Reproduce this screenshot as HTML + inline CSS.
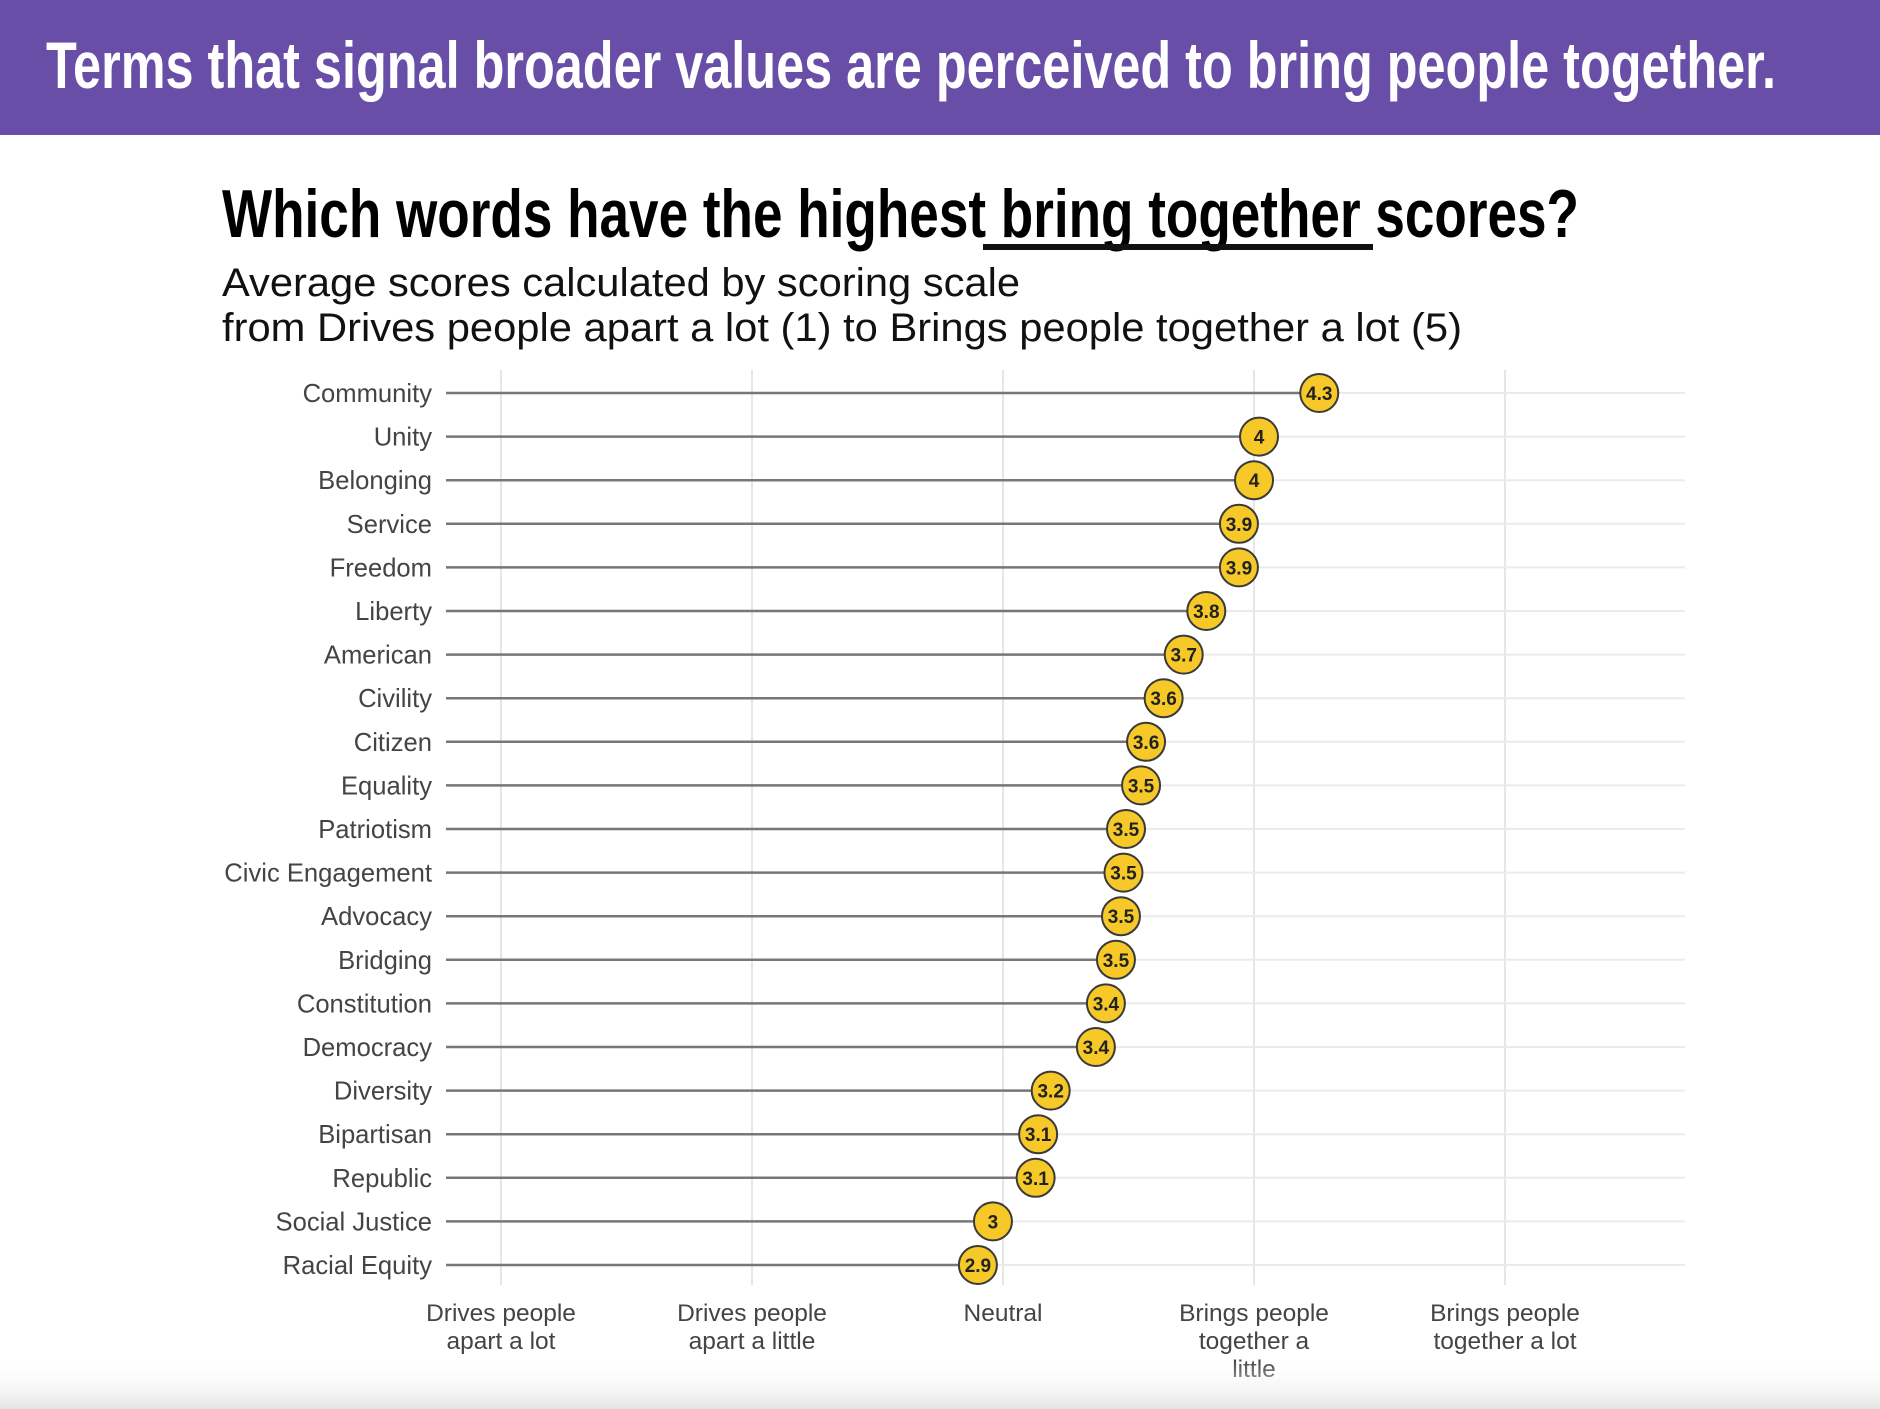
<!DOCTYPE html>
<html><head><meta charset="utf-8"><style>
html,body{margin:0;padding:0;background:#fff;}
svg{display:block;}
text{font-family:"Liberation Sans",sans-serif;}
</style></head><body>
<svg id="chart" width="1880" height="1409" viewBox="0 0 1880 1409">
<defs><linearGradient id="bot" x1="0" y1="0" x2="0" y2="1"><stop offset="0" stop-color="#fff" stop-opacity="0"/><stop offset="1" stop-color="#e4e4e4"/></linearGradient></defs>
<rect x="0" y="0" width="1880" height="135" fill="#684ea7"/>
<text x="46" y="88" font-size="66" font-weight="bold" fill="#fff" textLength="1730" lengthAdjust="spacingAndGlyphs">Terms that signal broader values are perceived to bring people together.</text>
<text x="222" y="237" font-size="68" font-weight="bold" fill="#000" textLength="1357" lengthAdjust="spacingAndGlyphs">Which words have the highest bring together scores?</text>
<rect x="983" y="244" width="390" height="6" fill="#111"/>
<text x="222" y="296" font-size="40" fill="#111" textLength="798" lengthAdjust="spacingAndGlyphs">Average scores calculated by scoring scale</text>
<text x="222" y="341" font-size="40" fill="#111" textLength="1240" lengthAdjust="spacingAndGlyphs">from Drives people apart a lot (1) to Brings people together a lot (5)</text>
<g id="plot"></g>
<rect x="0" y="1360" width="1880" height="49" fill="url(#bot)"/>
</svg>
<script>
const words = ["Community","Unity","Belonging","Service","Freedom","Liberty","American","Civility","Citizen","Equality","Patriotism","Civic Engagement","Advocacy","Bridging","Constitution","Democracy","Diversity","Bipartisan","Republic","Social Justice","Racial Equity"];
const scores = [4.26,4.02,4.0,3.94,3.94,3.81,3.72,3.64,3.57,3.55,3.49,3.48,3.47,3.45,3.41,3.37,3.19,3.14,3.13,2.96,2.90];
const valueLabels = ["4.3","4","4","3.9","3.9","3.8","3.7","3.6","3.6","3.5","3.5","3.5","3.5","3.5","3.4","3.4","3.2","3.1","3.1","3","2.9"];
const tickValues = [1,2,3,4,5];
const tickLabels = [["Drives people","apart a lot"],["Drives people","apart a little"],["Neutral"],["Brings people","together a","little"],["Brings people","together a lot"]];

const NS="http://www.w3.org/2000/svg";
const g=document.getElementById('plot');
const x=v=>501+(v-1)*251;
const y=i=>393+i*43.6;
function mk(tag,attrs){const e=document.createElementNS(NS,tag);for(const k in attrs)e.setAttribute(k,attrs[k]);g.appendChild(e);return e;}
tickValues.forEach((t,j)=>{
  const l=mk('line',{x1:x(t),x2:x(t),y1:370,y2:1285,stroke:'#e6e6e6','stroke-width':2});
  
  
  tickLabels[j].forEach((s,k)=>{
    const tx=mk('text',{x:x(t),y:1321+k*28,'font-size':24.5,fill:'#444','text-anchor':'middle'});
    tx.textContent=s;
    
    
  });
});
words.forEach((w,i)=>{
  const gl=mk('line',{x1:446,x2:1685,y1:y(i),y2:y(i),stroke:'#ebebeb','stroke-width':2});
  
  
  const lb=mk('text',{x:432,y:y(i)+9,'font-size':25.6,fill:'#444','text-anchor':'end'});
  lb.textContent=w;
  
  
  const st=mk('line',{x1:446,x2:x(scores[i]),y1:y(i),y2:y(i),stroke:'#777','stroke-width':2.5});
  
  
  const c=mk('circle',{cx:x(scores[i]),cy:y(i),r:19,fill:'#f6c928',stroke:'#3a3a3a','stroke-width':2});
  
  
  const vt=mk('text',{x:x(scores[i]),y:y(i)+7,'font-size':19,'font-weight':'bold',fill:'#222','text-anchor':'middle'});
  vt.textContent=valueLabels[i];
  
  
});
</script>
</body></html>
